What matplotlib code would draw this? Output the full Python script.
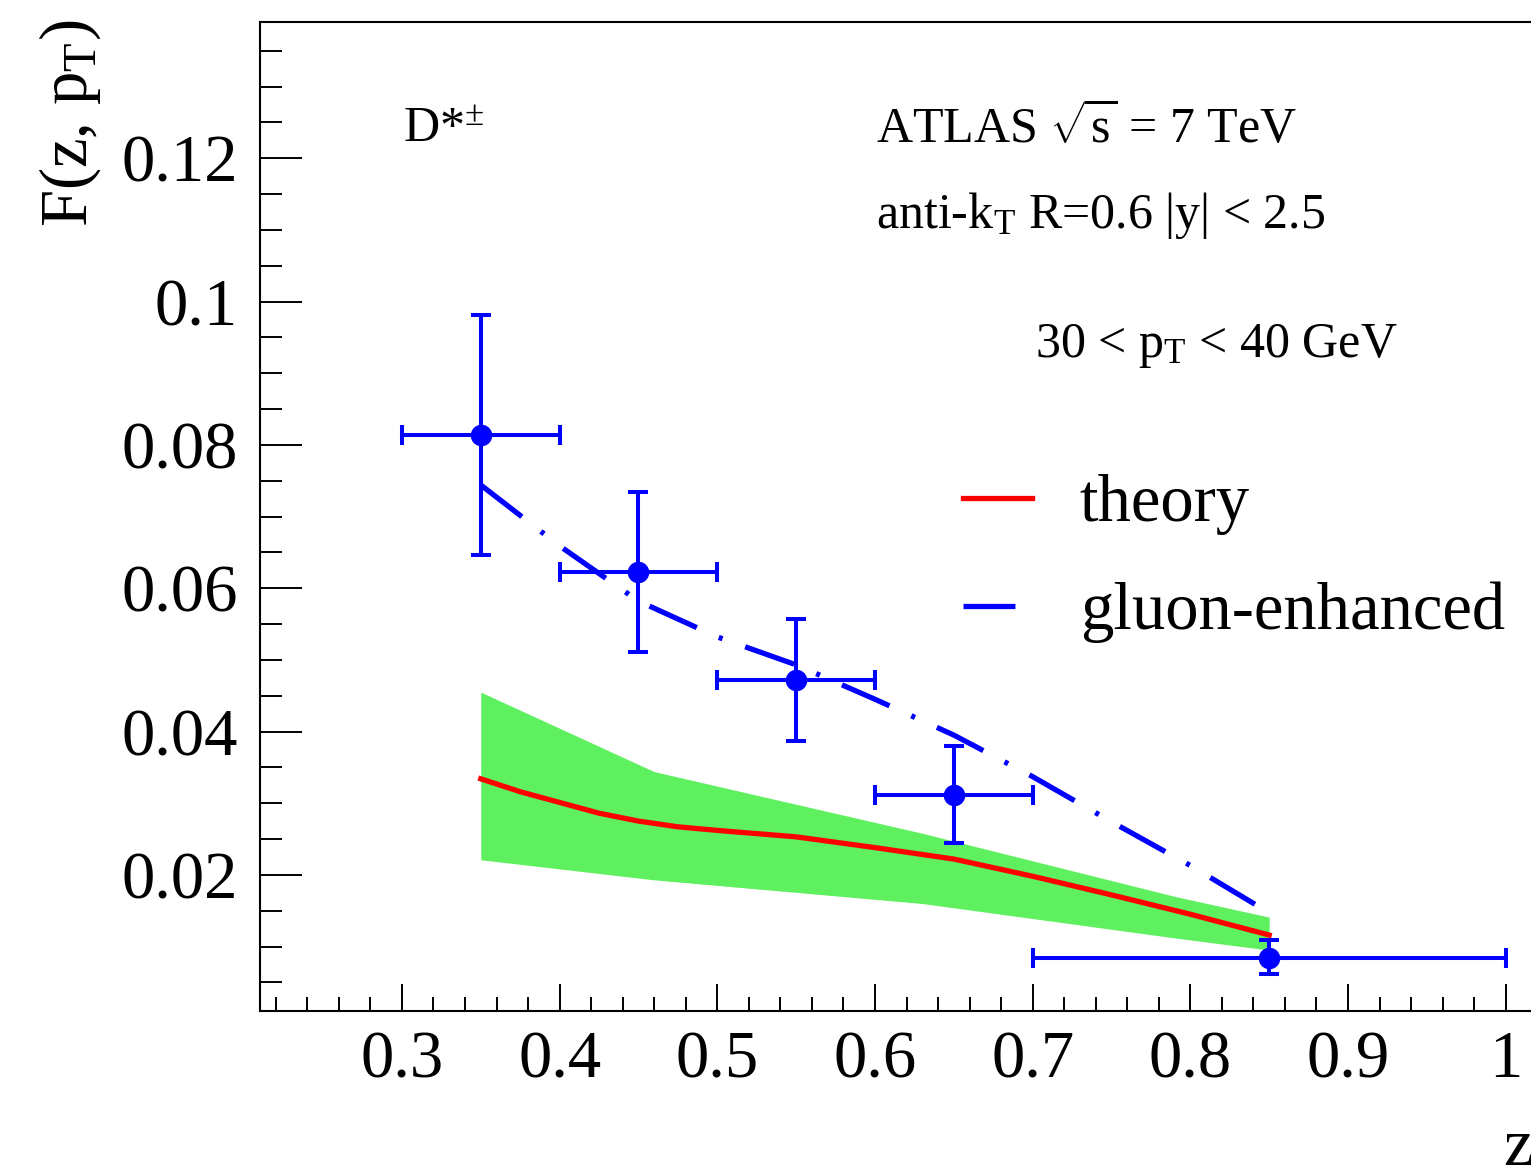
import matplotlib
matplotlib.use("Agg")
import matplotlib.pyplot as plt
from matplotlib.lines import Line2D
from matplotlib.ticker import MultipleLocator

plt.rcParams['font.family'] = ['Liberation Serif', 'DejaVu Serif']
plt.rcParams['mathtext.fontset'] = 'custom'
plt.rcParams['mathtext.rm'] = 'Liberation Serif'
plt.rcParams['mathtext.it'] = 'Liberation Serif:italic'
plt.rcParams['lines.scale_dashes'] = False

# data points (bin centres, half widths, values, errors)
z_bins = [0.35, 0.45, 0.55, 0.65, 0.85]
z_lo = [0.05, 0.05, 0.05, 0.05, 0.15]
z_hi = [0.05, 0.05, 0.05, 0.05, 0.15]
f_data = [0.0814, 0.0623, 0.0472, 0.0312, 0.0084]
f_err_up = [0.0167, 0.0111, 0.0085, 0.0068, 0.0025]
f_err_dn = [0.0168, 0.0112, 0.0085, 0.0067, 0.0023]

# theory curve
z_theory = [0.35, 0.375, 0.40, 0.425, 0.45, 0.475, 0.50, 0.55, 0.60, 0.65, 0.70, 0.75, 0.80, 0.85]
f_theory = [0.0334, 0.0316, 0.0301, 0.0286, 0.0275, 0.0267, 0.0262, 0.0253, 0.0238, 0.0222,
            0.0198, 0.0172, 0.0145, 0.0116]

# theory uncertainty band
z_band = [0.35, 0.46, 0.63, 0.79, 0.85]
band_up = [0.0455, 0.0344, 0.0258, 0.0170, 0.0141]
band_dn = [0.0221, 0.0193, 0.0160, 0.0112, 0.0095]

# gluon-enhanced curve
z_gluon = [0.35, 0.40, 0.45, 0.50, 0.55, 0.60, 0.65, 0.70, 0.75, 0.80, 0.85]
f_gluon = [0.0744, 0.0659, 0.0582, 0.0532, 0.0493, 0.0445, 0.0395, 0.0337, 0.0274, 0.0213, 0.0147]

xticks = [0.3, 0.4, 0.5, 0.6, 0.7, 0.8, 0.9, 1.0]
xtick_labels = ['0.3', '0.4', '0.5', '0.6', '0.7', '0.8', '0.9', '1']
yticks = [0.02, 0.04, 0.06, 0.08, 0.10, 0.12]
ytick_labels = ['0.02', '0.04', '0.06', '0.08', '0.1', '0.12']

W, H = 1531, 1167
fig = plt.figure(figsize=(W / 100, H / 100), dpi=100)
ax = fig.add_axes([260 / W, 156 / H, (1553 - 260) / W, (1011 - 22) / H])

ax.fill_between(z_band, band_dn, band_up, color='#5ef05e', linewidth=0, zorder=1)
ax.plot(z_theory, f_theory, color='red', lw=3.8, zorder=2)
dashdot = (0, (37.4, 17.3, 2.9, 17.3))
ax.plot(z_gluon, f_gluon, color='blue', lw=3.8, linestyle=dashdot, zorder=3)
ax.errorbar(z_bins, f_data, xerr=[z_lo, z_hi], yerr=[f_err_dn, f_err_up],
            fmt='o', color='blue', ms=14.5, elinewidth=2.9, capsize=7.5, capthick=2.9, zorder=4)

ax.set_xlim(0.21, 1.03)
ax.set_ylim(0.001, 0.139)
ax.set_xticks(xticks)
ax.set_xticklabels(xtick_labels)
ax.set_yticks(yticks)
ax.set_yticklabels(ytick_labels)
ax.xaxis.set_minor_locator(MultipleLocator(0.02))
ax.yaxis.set_minor_locator(MultipleLocator(0.005))
ax.tick_params(axis='both', which='both', direction='in', width=1.4, labelsize=48)
ax.tick_params(axis='y', which='major', length=30, pad=16)
ax.tick_params(axis='y', which='minor', length=16)
ax.tick_params(axis='x', which='major', length=19.5, pad=14)
ax.tick_params(axis='x', which='minor', length=10)
for s in ax.spines.values():
    s.set_linewidth(1.5)

fig.text(70 / W, 1 - 20 / H, r'F(z, p$_\mathrm{T}$)', rotation=90, ha='center', va='top', fontsize=48)
fig.text(1503 / W, 1 - 1165 / H, 'z', ha='left', va='baseline', fontsize=48)

fig.text(403 / W, 1 - 142 / H, r'D*$^{\pm}$', ha='left', va='baseline', fontsize=36)
fig.text(876 / W, 1 - 142 / H, r'ATLAS $\sqrt{\mathrm{s}}$ = 7 TeV', ha='left', va='baseline', fontsize=36)
fig.text(876 / W, 1 - 228 / H, r'anti-k$_\mathrm{T}$ R=0.6 |y| < 2.5', ha='left', va='baseline', fontsize=36)
fig.text(1035 / W, 1 - 357 / H, r'30 < p$_\mathrm{T}$ < 40 GeV', ha='left', va='baseline', fontsize=36)

handles = [Line2D([], [], color='red', lw=3.8),
           Line2D([], [], color='blue', lw=3.8, linestyle=dashdot)]
ax.legend(handles, ['theory', 'gluon-enhanced'], loc='upper left',
          bbox_to_anchor=(963 / W, 1 - 474 / H), bbox_transform=fig.transFigure,
          frameon=False, fontsize=48, handlelength=1.03, handletextpad=0.72,
          labelspacing=0.70, borderpad=0, borderaxespad=0)

fig.savefig('out.png', dpi=100)
